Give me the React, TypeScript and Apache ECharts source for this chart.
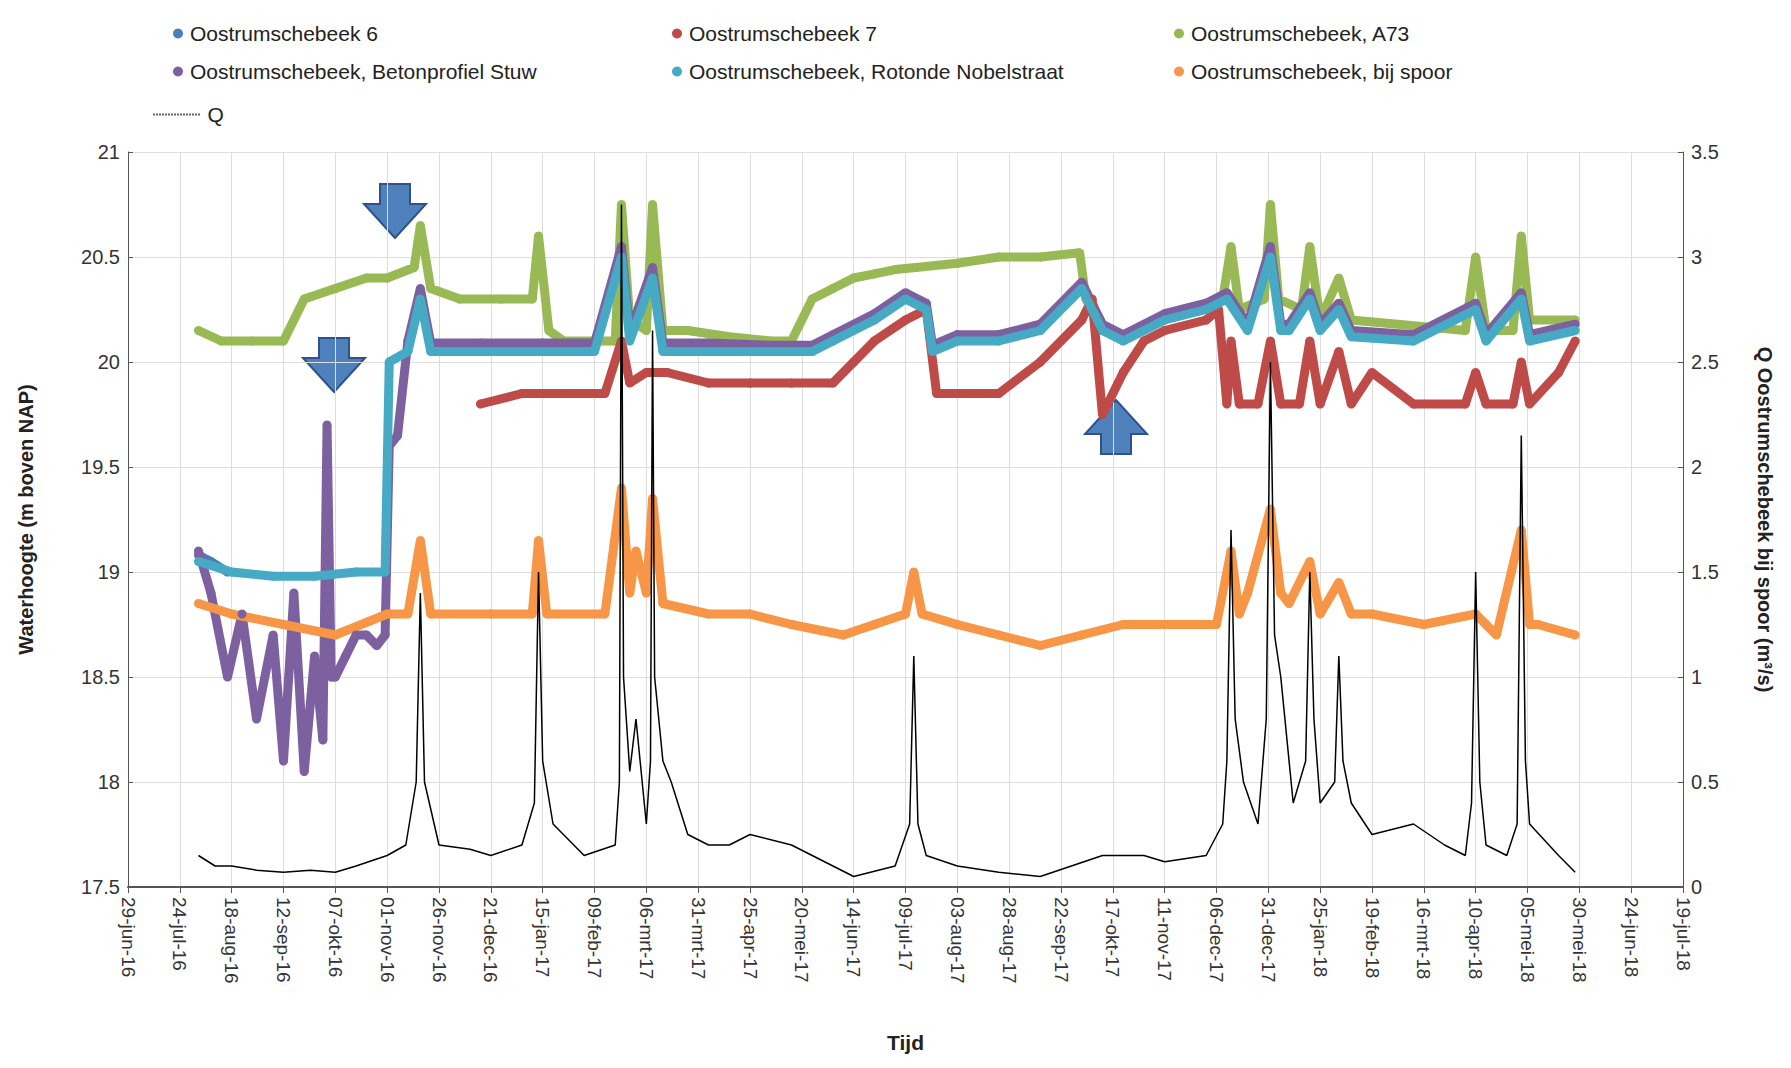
import React from 'react';
import * as echarts from 'echarts';

// days since 29-jun-16
const START = Date.UTC(2016, 5, 29);
const MONTHS = ['jan', 'feb', 'mrt', 'apr', 'mei', 'jun', 'jul', 'aug', 'sep', 'okt', 'nov', 'dec'];

const a73Days = [34, 45, 60, 75, 85, 100, 115, 125, 138, 141, 146, 160, 180, 195, 198, 203, 210, 225, 235, 238, 242, 250, 253, 258, 270, 290, 310, 320, 330, 340, 350, 360, 370, 380, 400, 420, 440, 459, 462, 470, 480, 500, 520, 528, 532, 536, 548, 551, 555, 566, 570, 575, 584, 590, 645, 650, 655, 668, 672, 676, 698];
const a73Vals = [20.15, 20.1, 20.1, 20.1, 20.3, 20.35, 20.4, 20.4, 20.45, 20.65, 20.35, 20.3, 20.3, 20.3, 20.6, 20.15, 20.1, 20.1, 20.1, 20.75, 20.2, 20.15, 20.75, 20.15, 20.15, 20.12, 20.1, 20.1, 20.3, 20.35, 20.4, 20.42, 20.44, 20.45, 20.47, 20.5, 20.5, 20.52, 20.3, 20.15, 20.12, 20.22, 20.27, 20.3, 20.55, 20.25, 20.3, 20.75, 20.3, 20.25, 20.55, 20.2, 20.4, 20.2, 20.15, 20.5, 20.15, 20.15, 20.6, 20.2, 20.2];

const rotDays = [34, 50, 70, 90, 110, 124, 126, 135, 141, 146, 170, 200, 225, 238, 242, 253, 258, 280, 310, 330, 340, 360, 375, 385, 388, 400, 420, 440, 455, 460, 470, 480, 500, 520, 530, 540, 551, 556, 560, 570, 575, 584, 590, 620, 650, 655, 672, 676, 698];
const rotVals = [19.05, 19.0, 18.98, 18.98, 19.0, 19.0, 20.0, 20.05, 20.3, 20.05, 20.05, 20.05, 20.05, 20.5, 20.1, 20.4, 20.05, 20.05, 20.05, 20.05, 20.1, 20.2, 20.3, 20.25, 20.05, 20.1, 20.1, 20.15, 20.3, 20.35, 20.15, 20.1, 20.2, 20.25, 20.3, 20.15, 20.5, 20.15, 20.15, 20.3, 20.15, 20.25, 20.12, 20.1, 20.25, 20.1, 20.3, 20.1, 20.15];

const b7Days = [170, 190, 210, 230, 238, 242, 250, 260, 280, 300, 320, 340, 350, 360, 375, 385, 390, 400, 420, 440, 460, 465, 470, 480, 490, 500, 520, 526, 530, 532, 536, 545, 551, 556, 565, 570, 575, 584, 590, 600, 620, 645, 650, 655, 668, 672, 676, 690, 698];
const b7Vals = [19.8, 19.85, 19.85, 19.85, 20.1, 19.9, 19.95, 19.95, 19.9, 19.9, 19.9, 19.9, 20.0, 20.1, 20.2, 20.25, 19.85, 19.85, 19.85, 20.0, 20.2, 20.3, 19.75, 19.95, 20.1, 20.15, 20.2, 20.25, 19.8, 20.1, 19.8, 19.8, 20.1, 19.8, 19.8, 20.1, 19.8, 20.05, 19.8, 19.95, 19.8, 19.8, 19.95, 19.8, 19.8, 20.0, 19.8, 19.95, 20.1];

const betonDays = [34, 40, 48, 55, 62, 70, 75, 80, 85, 90, 94, 96, 98, 100, 105, 110, 115, 120, 124, 126, 130, 135, 141, 146, 170, 200, 225, 238, 242, 253, 258, 280, 310, 330, 340, 360, 375, 385, 388, 400, 420, 440, 455, 460, 470, 480, 500, 520, 530, 540, 551, 556, 560, 570, 575, 584, 590, 620, 650, 655, 672, 676, 698];
const betonVals = [19.1, 18.9, 18.5, 18.8, 18.3, 18.7, 18.1, 18.9, 18.05, 18.6, 18.2, 19.7, 18.5, 18.5, 18.6, 18.7, 18.7, 18.65, 18.7, 19.6, 19.65, 20.1, 20.35, 20.09, 20.09, 20.09, 20.09, 20.55, 20.14, 20.45, 20.09, 20.09, 20.08, 20.08, 20.13, 20.23, 20.33, 20.28, 20.08, 20.13, 20.13, 20.18, 20.33, 20.38, 20.18, 20.13, 20.23, 20.28, 20.33, 20.18, 20.55, 20.18, 20.18, 20.33, 20.18, 20.28, 20.15, 20.13, 20.28, 20.13, 20.33, 20.13, 20.18];

const ob6Days = [34, 40, 48];
const ob6Vals = [19.08, 19.05, 19.0];

const spoorDays = [34, 50, 75, 100, 125, 135, 141, 146, 175, 195, 198, 202, 230, 238, 242, 245, 250, 253, 258, 280, 300, 320, 345, 360, 375, 379, 383, 400, 420, 440, 460, 480, 500, 525, 532, 536, 540, 551, 556, 560, 570, 575, 584, 590, 600, 625, 650, 655, 660, 672, 676, 680, 698];
const spoorVals = [18.85, 18.8, 18.75, 18.7, 18.8, 18.8, 19.15, 18.8, 18.8, 18.8, 19.15, 18.8, 18.8, 19.4, 18.9, 19.1, 18.9, 19.35, 18.85, 18.8, 18.8, 18.75, 18.7, 18.75, 18.8, 19.0, 18.8, 18.75, 18.7, 18.65, 18.7, 18.75, 18.75, 18.75, 19.1, 18.8, 18.9, 19.3, 18.9, 18.85, 19.05, 18.8, 18.95, 18.8, 18.8, 18.75, 18.8, 18.75, 18.7, 19.2, 18.75, 18.75, 18.7];

const qDays = [34, 42, 50, 62, 75, 88, 100, 110, 125, 134, 139, 141, 143, 150, 165, 175, 190, 196, 198, 200, 205, 220, 235, 237, 238, 239, 242, 245, 250, 252, 253, 254, 258, 262, 270, 280, 290, 300, 320, 340, 350, 370, 377, 379, 381, 385, 400, 420, 440, 455, 470, 490, 500, 520, 528, 530, 532, 534, 538, 545, 549, 551, 553, 556, 562, 568, 570, 572, 575, 582, 584, 586, 590, 600, 620, 635, 645, 648, 650, 652, 655, 665, 670, 672, 674, 676, 690, 698];
const qVals = [0.15, 0.1, 0.1, 0.08, 0.07, 0.08, 0.07, 0.1, 0.15, 0.2, 0.5, 1.4, 0.5, 0.2, 0.18, 0.15, 0.2, 0.4, 1.5, 0.6, 0.3, 0.15, 0.2, 0.5, 3.25, 1.0, 0.55, 0.8, 0.3, 0.6, 2.65, 1.0, 0.6, 0.5, 0.25, 0.2, 0.2, 0.25, 0.2, 0.1, 0.05, 0.1, 0.3, 1.1, 0.3, 0.15, 0.1, 0.07, 0.05, 0.1, 0.15, 0.15, 0.12, 0.15, 0.3, 0.6, 1.7, 0.8, 0.5, 0.3, 0.8, 2.5, 1.2, 1.0, 0.4, 0.6, 1.5, 0.8, 0.4, 0.5, 1.1, 0.6, 0.4, 0.25, 0.3, 0.2, 0.15, 0.4, 1.5, 0.5, 0.2, 0.15, 0.3, 2.15, 0.6, 0.3, 0.15, 0.07];

const zip = (d: number[], v: number[]) => d.map((x, i) => [x, v[i]]);

const fmtDay = (v: number) => {
  const d = new Date(START + v * 86400000);
  const dd = String(d.getUTCDate()).padStart(2, '0');
  return `${dd}-${MONTHS[d.getUTCMonth()]}-${String(d.getUTCFullYear()).slice(2)}`;
};

const levelSeries = (name: string, color: string, d: number[], v: number[], z: number) => ({
  name,
  type: 'line',
  data: zip(d, v),
  symbol: 'circle',
  symbolSize: 9,
  showSymbol: true,
  itemStyle: { color },
  lineStyle: { color, width: 9 },
  z,
});

// dotted legend icon for Q
const dotted = 'path://' + Array.from({ length: 16 }, (_, i) => `M${i * 3},0h2v2h-2z`).join('');

const App: React.FC = () => {
  const ref = React.useRef<HTMLDivElement>(null);

  React.useEffect(() => {
    if (!ref.current) return;
    const chart = echarts.init(ref.current, undefined, { renderer: 'svg' });
    const font = 'Liberation Sans';
    const legendBase = {
      orient: 'vertical',
      itemGap: 17,
      itemWidth: 14,
      itemHeight: 10,
      textStyle: { fontFamily: font, fontSize: 21, color: '#222' },
      icon: 'circle',
    };
    chart.setOption({
      animation: false,
      textStyle: { fontFamily: font },
      legend: [
        { ...legendBase, left: 160, top: 10, data: ['Oostrumschebeek 6', 'Oostrumschebeek, Betonprofiel Stuw'] },
        { ...legendBase, left: 659, top: 10, data: ['Oostrumschebeek 7', 'Oostrumschebeek, Rotonde Nobelstraat'] },
        { ...legendBase, left: 1161, top: 10, data: ['Oostrumschebeek, A73', 'Oostrumschebeek, bij spoor'] },
        { ...legendBase, left: 140, top: 91, itemWidth: 52, itemHeight: 2, data: [{ name: 'Q', icon: dotted, itemStyle: { color: '#666' } }] },
      ],
      grid: { left: 120, right: 81, top: 144, bottom: 173 },
      xAxis: {
        type: 'value',
        min: 0,
        max: 750,
        interval: 25,
        name: 'Tijd',
        nameLocation: 'middle',
        nameGap: 145,
        nameTextStyle: { fontSize: 21, fontWeight: 'bold', color: '#222' },
        axisLine: { lineStyle: { color: '#555', width: 2 } },
        axisTick: { show: true, length: 6, lineStyle: { color: '#555' } },
        axisLabel: { rotate: -90, fontSize: 19, color: '#333', formatter: fmtDay, margin: 10 },
        splitLine: { show: true, lineStyle: { color: '#ddd' } },
      },
      yAxis: [
        {
          type: 'value',
          min: 17.5,
          max: 21,
          interval: 0.5,
          name: 'Waterhoogte (m boven NAP)',
          nameLocation: 'middle',
          nameGap: 92,
          nameTextStyle: { fontSize: 20, fontWeight: 'bold', color: '#222' },
          axisLine: { show: true, lineStyle: { color: '#555' } },
          axisTick: { show: true, inside: true, lineStyle: { color: '#555' } },
          axisLabel: { fontSize: 20, color: '#333', formatter: (v: number) => String(v) },
          splitLine: { show: true, lineStyle: { color: '#ddd' } },
        },
        {
          type: 'value',
          min: 0,
          max: 3.5,
          interval: 0.5,
          name: 'Q Oostrumschebeek bij spoor (m³/s)',
          nameLocation: 'middle',
          nameGap: 72,
          nameRotate: -90,
          nameTextStyle: { fontSize: 20, fontWeight: 'bold', color: '#222' },
          axisLine: { show: true, lineStyle: { color: '#555' } },
          axisTick: { show: true, inside: true, lineStyle: { color: '#555' } },
          axisLabel: { fontSize: 20, color: '#333', formatter: (v: number) => String(v) },
          splitLine: { show: false },
        },
      ],
      series: [
        levelSeries('Oostrumschebeek 6', '#4a7ebb', ob6Days, ob6Vals, 2),
        levelSeries('Oostrumschebeek 7', '#be4b48', b7Days, b7Vals, 4),
        levelSeries('Oostrumschebeek, A73', '#98b954', a73Days, a73Vals, 2),
        levelSeries('Oostrumschebeek, Betonprofiel Stuw', '#7d60a0', betonDays, betonVals, 3),
        levelSeries('Oostrumschebeek, Rotonde Nobelstraat', '#46aac5', rotDays, rotVals, 5),
        levelSeries('Oostrumschebeek, bij spoor', '#f79646', spoorDays, spoorVals, 3),
        {
          name: 'Q',
          type: 'line',
          yAxisIndex: 1,
          data: zip(qDays, qVals),
          showSymbol: false,
          symbol: 'none',
          itemStyle: { color: '#000' },
          lineStyle: { color: '#000', width: 1.5 },
          z: 6,
        },
      ],
      graphic: [
        { type: 'polygon', shape: { points: [[372, 176], [402, 176], [402, 196], [418, 196], [387, 230], [356, 196], [372, 196]] }, style: { fill: '#4f81bd', stroke: '#2f528f', lineWidth: 2 } },
        { type: 'polygon', shape: { points: [[311, 330], [341, 330], [341, 350], [357, 350], [326, 384], [295, 350], [311, 350]] }, style: { fill: '#4f81bd', stroke: '#2f528f', lineWidth: 2 } },
        { type: 'polygon', shape: { points: [[1093, 446], [1123, 446], [1123, 426], [1139, 426], [1108, 392], [1077, 426], [1093, 426]] }, style: { fill: '#4f81bd', stroke: '#2f528f', lineWidth: 2 } },
      ],
    });
    return () => chart.dispose();
  }, []);

  return <div ref={ref} style={{ width: 1775, height: 1052 }} />;
};

export default App;
